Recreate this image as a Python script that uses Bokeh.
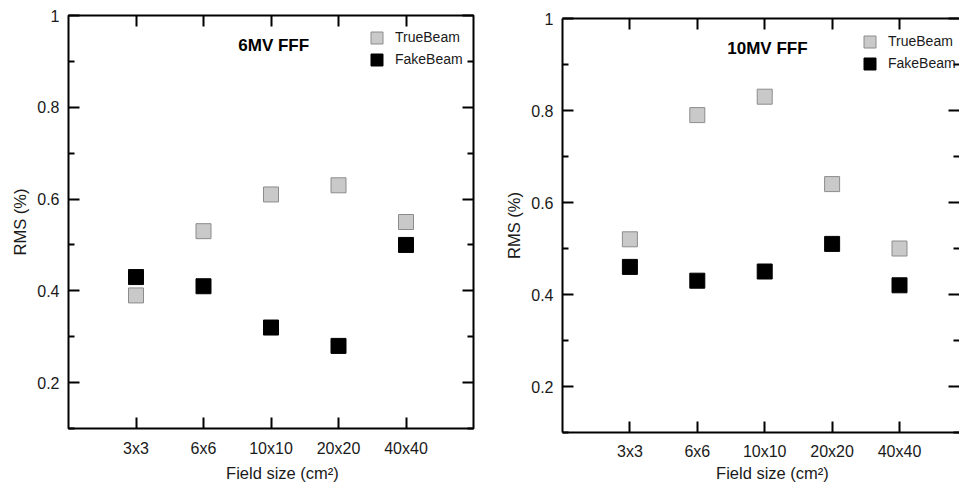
from bokeh.plotting import figure
from bokeh.layouts import row, column
from bokeh.models import Range1d, FixedTicker, LinearAxis, Legend, LegendItem, Label
from bokeh.embed import file_html
from bokeh.resources import INLINE

# ---- data ----
categories = ["3x3", "6x6", "10x10", "20x20", "40x40"]
series_names = ["TrueBeam", "FakeBeam"]
panel_titles = ["6MV FFF", "10MV FFF"]
x_title = "Field size (cm\u00b2)"
y_title = "RMS (%)"

true_6mv = [0.39, 0.53, 0.61, 0.63, 0.55]
fake_6mv = [0.43, 0.41, 0.32, 0.28, 0.50]

true_10mv = [0.52, 0.79, 0.83, 0.64, 0.50]
fake_10mv = [0.46, 0.43, 0.45, 0.51, 0.42]

y_ticks = [0.2, 0.4, 0.6, 0.8, 1.0]
y_tick_labels = ["0.2", "0.4", "0.6", "0.8", "1"]
y_minor_ticks = [0.1, 0.3, 0.5, 0.7, 0.9]

FONT = "Liberation Sans"
TXT = "#1a1a1a"
NBSP = "\u00a0"


def make_panel(title, true_vals, fake_vals, x_end, fw, fh, border_left, border_right,
               border_top, border_bottom, outline, legend_loc, xstand, xlstand):
    x_pos = list(range(1, len(categories) + 1))
    p = figure(frame_width=fw, frame_height=fh, output_backend="svg",
               toolbar_location=None,
               x_range=Range1d(0, x_end), y_range=Range1d(0.1, 1.0),
               min_border_left=border_left, min_border_right=border_right,
               min_border_top=border_top, min_border_bottom=border_bottom,
               background_fill_color="white", border_fill_color="white")
    p.xgrid.visible = False
    p.ygrid.visible = False
    if outline:
        p.outline_line_color = "black"
        p.outline_line_width = 2
    else:
        p.outline_line_color = None

    xt = FixedTicker(ticks=x_pos)
    yt = FixedTicker(ticks=y_ticks, minor_ticks=y_minor_ticks)
    x_over = dict(zip(x_pos, categories))
    y_over = dict(zip(y_ticks, y_tick_labels))

    xa = p.xaxis[0]
    xa.ticker = xt
    xa.major_label_overrides = x_over
    # the original title sits a little right of the frame centre
    xa.axis_label = NBSP * 5 + x_title
    ya = p.yaxis[0]
    ya.ticker = yt
    ya.major_label_overrides = y_over
    ya.axis_label = y_title

    for ax in (xa, ya):
        ax.major_tick_in = 11
        ax.major_tick_out = 0
        ax.minor_tick_in = 6
        ax.minor_tick_out = 0
        ax.major_tick_line_width = 2
        ax.minor_tick_line_width = 2
        ax.major_tick_line_color = "black"
        ax.minor_tick_line_color = "black"
        ax.axis_line_width = 2
        ax.axis_line_color = "black" if not outline else None
        ax.major_label_text_font = FONT
        ax.major_label_text_font_size = "16px"
        ax.major_label_text_color = TXT
        ax.axis_label_text_font = FONT
        ax.axis_label_text_font_size = "16.5px"
        ax.axis_label_text_font_style = "normal"
        ax.axis_label_text_color = TXT
    xa.minor_tick_line_color = None
    xa.major_label_standoff = xstand
    xa.axis_label_standoff = xlstand
    ya.major_label_standoff = 9
    ya.axis_label_standoff = 5

    # mirror axes: ticks only, no labels
    top = LinearAxis(ticker=xt, major_label_overrides={k: "" for k in x_pos},
                     major_label_text_font_size="0px", major_label_standoff=0,
                     major_tick_in=11, major_tick_out=0, major_tick_line_width=2,
                     minor_tick_line_color=None,
                     axis_line_width=2, axis_line_color="black" if not outline else None)
    p.add_layout(top, "above")
    right = LinearAxis(ticker=yt, major_label_overrides={k: "" for k in y_ticks},
                       major_label_text_font_size="0px", major_label_standoff=0,
                       major_tick_in=11, major_tick_out=0, major_tick_line_width=2,
                       minor_tick_in=6, minor_tick_out=0, minor_tick_line_width=2,
                       axis_line_color=None)
    p.add_layout(right, "right")

    r_true = p.rect(x_pos, true_vals, width=15, height=15, width_units="screen",
                    height_units="screen", fill_color="#c9c9c9", line_color="#8c8c8c",
                    line_width=1)
    r_fake = p.rect(x_pos, fake_vals, width=15, height=15, width_units="screen",
                    height_units="screen", fill_color="black", line_color="black",
                    line_width=1)

    legend = Legend(items=[LegendItem(label=series_names[0], renderers=[r_true]),
                           LegendItem(label=series_names[1], renderers=[r_fake])],
                    location=legend_loc, glyph_width=15, glyph_height=15,
                    label_height=15, spacing=6, padding=0, margin=0, label_standoff=11,
                    label_text_font=FONT, label_text_font_size="14px",
                    label_text_color=TXT, label_text_baseline="middle",
                    background_fill_alpha=0, border_line_color=None)
    p.add_layout(legend, "center")

    p.add_layout(Label(x=3.04, y=0.935, text=title, text_align="center",
                       text_baseline="middle", text_font=FONT, text_font_size="17px",
                       text_font_style="bold", text_color="black"))
    return p


p1 = make_panel(panel_titles[0], true_6mv, fake_6mv, 6.0, 405, 413, 68, 7, 15, 60, True,
                (301, 361), 11, 4)
p2 = make_panel(panel_titles[1], true_10mv, fake_10mv, 5.89, 397, 414, 82, 0, 18, 56, False,
                (300, 361), 10, 1)

layout = row(column(p1), column(p2))
open("out.html", "w").write(file_html(layout, INLINE))
